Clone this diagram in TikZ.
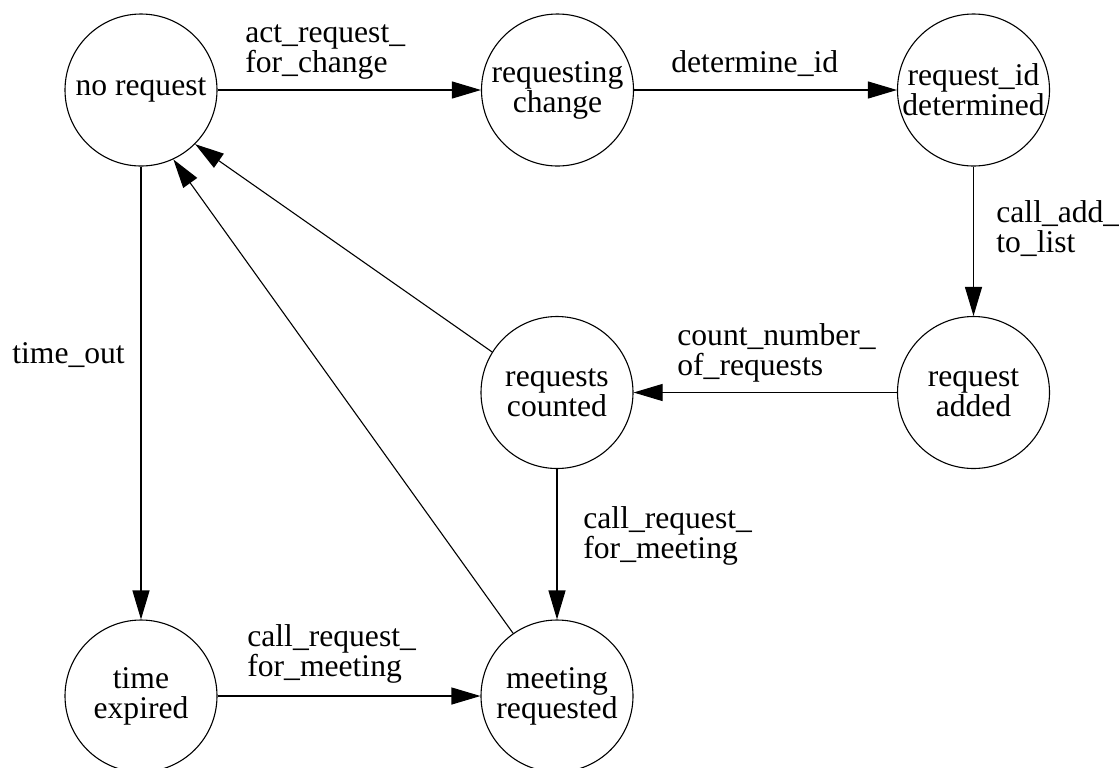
\documentclass[tikz,border=0pt]{standalone}
\usepackage{fontspec}
\setmainfont{Liberation Serif}
\usetikzlibrary{arrows.meta}

\tikzset{
  statecirc/.style={draw,circle,minimum size=76pt,inner sep=0pt,align=center,line width=0.55pt},
  trans/.style={-{Triangle[length=14.5pt,width=8.5pt]},line width=0.55pt},
  translabel/.style={anchor=base west,align=left,inner sep=0pt}
}

\begin{document}
\begin{tikzpicture}[x=0.5pt,y=-0.5pt,font=\fontsize{15.8}{15}\selectfont]
  \useasboundingbox (0,0) rectangle (1119,767);
  \clip (0,0) rectangle (1119,767);

  % states
  \node[statecirc] (noreq)   at (141,90)      {no request};
  \node[statecirc] (reqchg)  at (557.5,90)    {requesting\\change};
  \node[statecirc] (iddet)   at (973.5,90)    {request\_id\\determined};
  \node[statecirc] (added)   at (973.5,392.5) {request\\added};
  \node[statecirc] (counted) at (557,392.5)   {requests\\counted};
  \node[statecirc] (meetreq) at (557,696)     {meeting\\requested};
  \node[statecirc] (expired) at (141,696)     {time\\expired};

  % transitions
  \draw[trans] (noreq) -- (reqchg);
  \draw[trans] (reqchg) -- (iddet);
  \draw[trans] (iddet) -- (added);
  \draw[trans] (added) -- (counted);
  \draw[trans] (counted) -- (meetreq);
  \draw[trans] (counted.148) -- (noreq.-45);
  \draw[trans] (meetreq.125) -- (noreq.-65);
  \draw[trans] (noreq) -- (expired);
  \draw[trans] (expired) -- (meetreq);

  % transition labels (base = last line)
  \node[translabel] (lact)   at (245,72)  {act\_request\_\\for\_change};
  \node[translabel] (ldet)   at (671,72)  {determine\_id};
  \node[translabel] (ladd)   at (996,252) {call\_add\_\\to\_list};
  \node[translabel] (lcount) at (677,375) {count\_number\_\\of\_requests};
  \node[translabel] (lmeet)  at (583,558) {call\_request\_\\for\_meeting};
  \node[translabel] (ltime)  at (12,363)  {time\_out};
  \node[translabel] (lexp)   at (247,676) {call\_request\_\\for\_meeting};
\end{tikzpicture}
\end{document}
